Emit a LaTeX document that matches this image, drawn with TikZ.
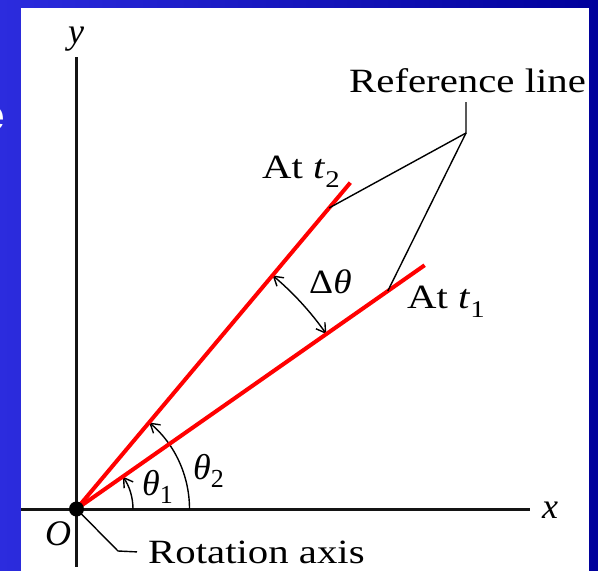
\documentclass[tikz,border=0pt]{standalone}
\usepackage{graphicx}
\usepackage{fontspec}
\setmainfont{Liberation Serif}
\newfontfamily\slidefont{Liberation Sans}
\usetikzlibrary{arrows.meta,calc}
\newcommand\wtxt[1]{\scalebox{1.2}[1]{#1}}
\newcommand\sbs[1]{\raisebox{-0.27em}{\fontsize{24}{24}\selectfont #1}}
\newcommand\sbb[1]{\raisebox{-8pt}{\fontsize{26}{26}\selectfont #1}}
\definecolor{slideblueL}{RGB}{44,44,222}
\definecolor{slideblueR}{RGB}{0,0,155}
\definecolor{lineblack}{RGB}{20,20,20}
\tikzset{
  lbl/.style={inner sep=0pt, anchor=base west, text=black, font=\fontsize{34}{36}\selectfont},
  mlbl/.style={inner sep=0pt, anchor=base west, text=black, font=\fontsize{36}{38}\selectfont\itshape},
  axis/.style={line width=3pt, draw=lineblack},
  redline/.style={line width=4pt, draw=red},
  thinline/.style={line width=1.4pt, draw=black},
  angarrow/.style={thinline, -{Straight Barb[length=9pt,width=11pt,line width=1.4pt]}},
  dblarrow/.style={thinline, {Straight Barb[length=9pt,width=11pt,line width=1.4pt]}-{Straight Barb[length=9pt,width=11pt,line width=1.4pt]}}
}
\begin{document}
\begin{tikzpicture}[x=1pt,y=-1pt]
\useasboundingbox (0,0) rectangle (598,571);
% slide background
\shade[left color=slideblueL, right color=slideblueR] (0,0) rectangle (598,571);
\node[inner sep=0pt, anchor=base east, text=white, font=\slidefont\bfseries\fontsize{44}{44}\selectfont] (eletter) at (5,130) {e};
\fill[white] (21,8) rectangle (589,572);
% coordinates
\coordinate (O) at (76.5,509);
\coordinate (xa0) at (21,509);
\coordinate (xa1) at (530,509);
\coordinate (ya0) at (76.5,57);
\coordinate (ya1) at (76.5,567);
\coordinate (e1) at ($(O)+(-35:425)$);
\coordinate (e2) at ($(O)+(-50:426)$);
\coordinate (P1) at ($(O)+(-35:380)$);
\coordinate (P2) at ($(O)+(-50:393)$);
\coordinate (apex) at (466,133);
\coordinate (stub) at (466,102);
\coordinate (rk) at (118,551);
% axes
\draw[axis] (xa0) -- (xa1);
\draw[axis] (ya0) -- (ya1);
% angle arcs
\draw[angarrow] ($(O)+(0:56.5)$) arc[start angle=0, end angle=-35, radius=56.5];
\draw[angarrow] ($(O)+(0:113)$) arc[start angle=0, end angle=-50, radius=113];
\draw[dblarrow] ($(O)+(-50:305)$) arc[start angle=-50, end angle=-35, radius=305];
% red lines
\draw[redline] (O) -- (e1);
\draw[redline] (O) -- (e2);
% reference line callouts
\draw[thinline, line join=miter] (stub) -- (apex) -- (P2);
\draw[thinline] (apex) -- (P1);
% dot
\fill[black] (O) circle[radius=7.5];
% labels
\node[lbl] (ref) at (349,92) {\wtxt{Reference line}};
\node[lbl] (at2) at (262,178) {\wtxt{At \textit{t}\sbs{2}}};
\node[lbl] (at1) at (407,308) {\wtxt{At \textit{t}\sbs{1}}};
\node[lbl] (dth) at (309,293) {\scalebox{1.1}[1]{Δ\textit{θ}}};
\node[mlbl] (th1) at (142,495) {θ\sbb{\upshape 1}};
\node[mlbl] (th2) at (193,479) {θ\sbb{\upshape 2}};
\node[mlbl] (Olbl) at (45,545) {O};
\node[mlbl] (xl) at (542,518) {x};
\node[mlbl] (yl) at (68,43) {y};
\node[lbl] (rot) at (148,563) {\wtxt{Rotation axis}};
% rotation axis callout
\draw[thinline] (O) -- (rk) -- ([xshift=-11pt]rot.west);
\end{tikzpicture}
\end{document}
